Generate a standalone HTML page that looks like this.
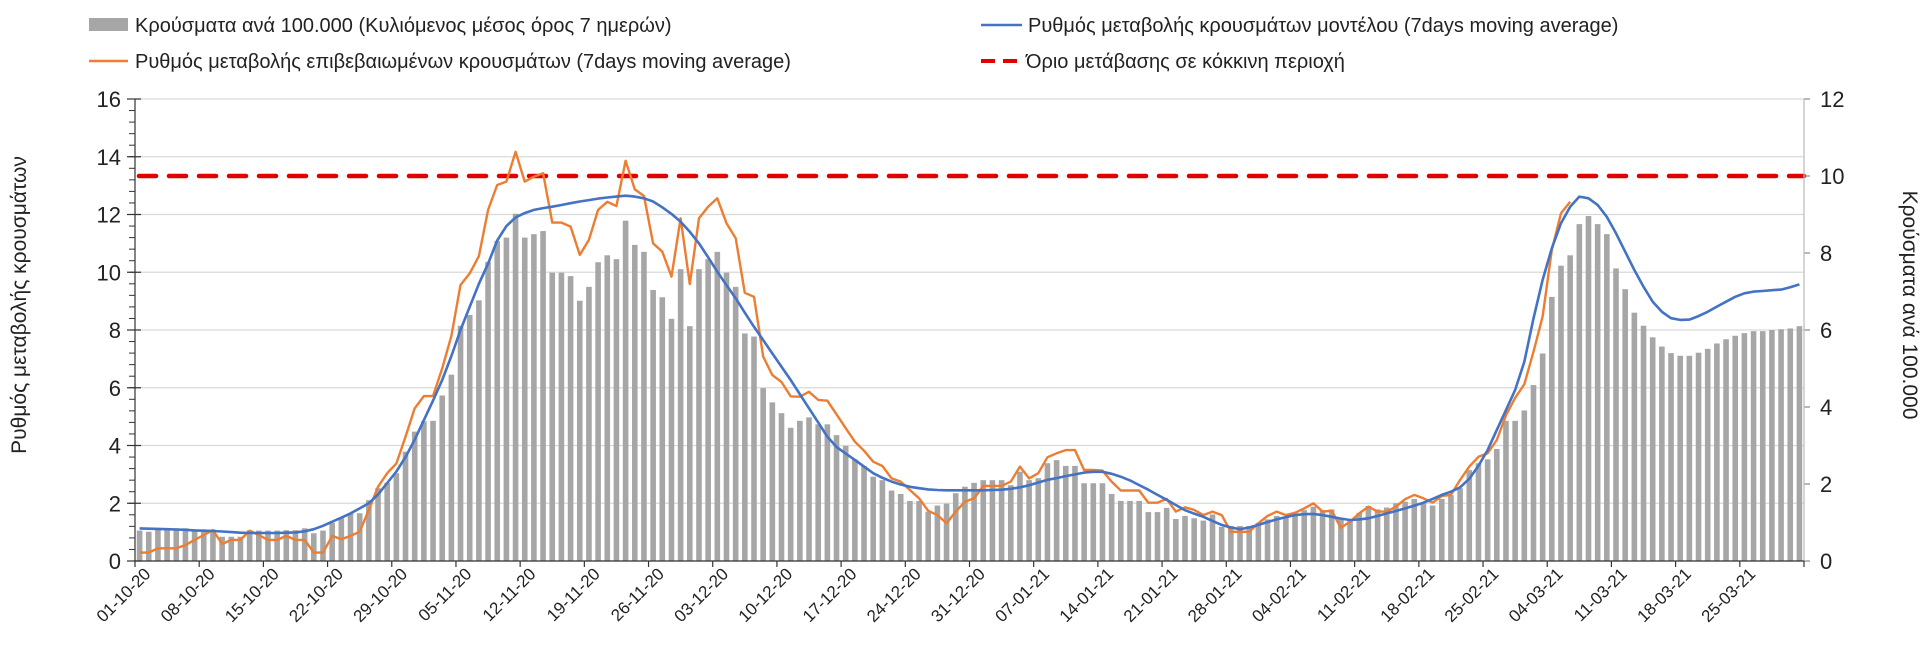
<!DOCTYPE html>
<html><head><meta charset="utf-8">
<style>
html,body{margin:0;padding:0;background:#fff;}
svg{display:block;font-family:"Liberation Sans","DejaVu Sans",sans-serif;}
</style></head>
<body>
<svg id="chart" width="1920" height="670" viewBox="0 0 1920 670" xmlns="http://www.w3.org/2000/svg">
  <g id="legend">
    <g>
      <rect x="89" y="18" width="39" height="13" fill="#a6a6a6"/>
      <text x="135" y="32" font-size="20" fill="#222">Κρούσματα ανά 100.000 (Κυλιόμενος μέσος όρος 7 ημερών)</text>
    </g>
    <g>
      <line x1="981" y1="25" x2="1022" y2="25" stroke="#4472c4" stroke-width="2.5"/>
      <text x="1028" y="32" font-size="20" fill="#222">Ρυθμός μεταβολής κρουσμάτων μοντέλου (7days moving average)</text>
    </g>
    <g>
      <line x1="89" y1="61" x2="128" y2="61" stroke="#ed7d31" stroke-width="2.5"/>
      <text x="135" y="68" font-size="20" fill="#222">Ρυθμός μεταβολής επιβεβαιωμένων κρουσμάτων (7days moving average)</text>
    </g>
    <g>
      <line x1="981" y1="61" x2="1022" y2="61" stroke="#e00000" stroke-width="4" stroke-dasharray="14,8"/>
      <text x="1026" y="68" font-size="20" fill="#222">Όριο μετάβασης σε κόκκινη περιοχή</text>
    </g>
  </g>
  <text transform="translate(26,305) rotate(-90)" text-anchor="middle" font-size="21" fill="#222">Ρυθμός μεταβολής κρουσμάτων</text>
  <text transform="translate(1903,305) rotate(90)" text-anchor="middle" font-size="21" fill="#222">Κρούσματα ανά 100.000</text>
  <g id="grid"></g>
  <g id="bars"></g>
  <g id="lines"></g>
  <g id="axes"></g>
</svg>
<script>
const dateLabels = ["01-10-20","08-10-20","15-10-20","22-10-20","29-10-20","05-11-20","12-11-20","19-11-20","26-11-20","03-12-20","10-12-20","17-12-20","24-12-20","31-12-20","07-01-21","14-01-21","21-01-21","28-01-21","04-02-21","11-02-21","18-02-21","25-02-21","04-03-21","11-03-21","18-03-21","25-03-21"];
const leftTicks = [0,2,4,6,8,10,12,14,16];
const rightTicks = [0,2,4,6,8,10,12];
const redThreshold = 10;
const casesPer100k = [
0.79,0.76,0.85,0.85,0.85,0.85,0.82,0.82,0.82,0.63,
0.63,0.63,0.80,0.79,0.79,0.79,0.80,0.80,0.85,0.72,
0.79,0.99,1.11,1.24,1.24,1.58,1.89,2.03,2.28,2.84,
3.36,3.63,3.64,4.30,4.84,6.11,6.39,6.77,7.77,8.31,
8.40,9.02,8.40,8.49,8.57,7.49,7.49,7.40,6.76,7.12,
7.76,7.94,7.84,8.84,8.21,8.03,7.04,6.85,6.29,7.58,
6.10,7.58,7.84,8.03,7.49,7.12,5.91,5.83,4.49,4.12,
3.84,3.46,3.64,3.73,3.55,3.55,3.27,2.99,2.64,2.47,
2.19,2.10,1.83,1.74,1.56,1.56,1.28,1.44,1.49,1.76,
1.93,2.03,2.10,2.10,2.10,1.97,2.32,2.10,2.15,2.54,
2.62,2.47,2.47,2.02,2.02,2.02,1.74,1.56,1.56,1.56,
1.27,1.27,1.38,1.09,1.17,1.11,1.05,1.21,0.89,0.91,
0.91,0.91,0.99,1.08,1.17,1.13,1.24,1.32,1.41,1.32,
1.34,1.11,1.06,1.25,1.43,1.34,1.39,1.50,1.54,1.61,
1.52,1.44,1.61,1.71,1.89,2.36,2.54,2.64,2.91,3.64,
3.64,3.91,4.57,5.39,6.86,7.67,7.94,8.75,8.96,8.75,
8.49,7.60,7.06,6.45,6.11,5.81,5.57,5.40,5.33,5.33,
5.41,5.51,5.65,5.76,5.85,5.92,5.97,5.97,6.00,6.02,6.04,6.10];
const modelRate = [
1.13,1.12,1.11,1.10,1.09,1.08,1.06,1.05,1.04,1.02,
1.00,0.98,0.97,0.97,0.97,0.97,0.98,0.99,1.03,1.10,
1.22,1.36,1.50,1.65,1.82,2.00,2.30,2.70,3.10,3.60,
4.20,4.88,5.55,6.27,7.10,8.00,8.80,9.60,10.30,11.10,
11.60,11.90,12.05,12.16,12.22,12.27,12.33,12.39,12.45,12.50,
12.55,12.59,12.62,12.65,12.62,12.56,12.45,12.25,12.02,11.75,
11.40,11.00,10.52,10.02,9.55,9.10,8.60,8.11,7.65,7.19,
6.73,6.27,5.78,5.29,4.80,4.30,3.95,3.72,3.50,3.27,
3.04,2.88,2.75,2.65,2.57,2.52,2.48,2.46,2.45,2.45,
2.45,2.45,2.45,2.46,2.47,2.50,2.55,2.62,2.72,2.81,
2.87,2.94,3.00,3.06,3.09,3.09,3.02,2.92,2.79,2.63,
2.47,2.29,2.12,1.94,1.76,1.64,1.53,1.39,1.25,1.16,
1.10,1.16,1.25,1.35,1.44,1.52,1.59,1.62,1.63,1.59,
1.53,1.47,1.42,1.44,1.48,1.56,1.65,1.73,1.82,1.92,
2.02,2.15,2.29,2.40,2.55,2.85,3.30,3.84,4.54,5.23,
5.92,6.90,8.40,9.73,10.83,11.70,12.27,12.62,12.56,12.33,
11.92,11.35,10.71,10.08,9.50,8.98,8.63,8.41,8.35,8.36,
8.48,8.63,8.81,8.98,9.15,9.27,9.33,9.35,9.38,9.40,9.48,9.58];
const confirmedRate = [
0.29,0.29,0.44,0.44,0.44,0.55,0.73,0.90,1.07,0.59,
0.73,0.73,1.05,0.90,0.73,0.73,0.87,0.73,0.73,0.29,
0.29,0.87,0.75,0.87,1.01,1.77,2.57,3.04,3.38,4.30,
5.29,5.71,5.71,6.67,7.80,9.56,9.96,10.56,12.16,13.02,
13.14,14.17,13.14,13.31,13.43,11.72,11.72,11.58,10.60,11.12,
12.16,12.44,12.29,13.86,12.87,12.64,11.00,10.71,9.85,11.87,
9.59,11.87,12.27,12.56,11.70,11.18,9.29,9.15,7.08,6.44,
6.20,5.70,5.69,5.86,5.58,5.55,5.08,4.60,4.13,3.82,
3.44,3.29,2.86,2.75,2.46,2.17,1.74,1.59,1.31,1.71,
2.05,2.17,2.60,2.60,2.60,2.75,3.27,2.86,3.04,3.59,
3.73,3.84,3.84,3.15,3.15,3.13,2.75,2.44,2.44,2.44,
2.02,2.02,2.15,1.71,1.86,1.77,1.59,1.71,1.59,1.01,
1.01,1.01,1.31,1.56,1.71,1.59,1.67,1.82,2.00,1.71,
1.74,1.15,1.36,1.65,1.88,1.71,1.71,1.88,2.14,2.29,
2.17,2.02,2.25,2.29,2.81,3.27,3.61,3.73,4.19,5.05,
5.65,6.12,7.25,8.46,10.77,12.04,12.44];

const NS = "http://www.w3.org/2000/svg";
const L = 135, R = 1804, T = 99, B = 561;
const N = casesPer100k.length;
const band = (R - L) / N;
const xC = i => L + band * (i + 0.5);
const yL = v => B - (v / 16) * (B - T);
const yR = v => B - (v / 12) * (B - T);
function mk(tag, attrs, parent) {
  const e = document.createElementNS(NS, tag);
  for (const k in attrs) e.setAttribute(k, attrs[k]);
  parent.appendChild(e);
  return e;
}
const grid = document.getElementById('grid');
const bars = document.getElementById('bars');
const lines = document.getElementById('lines');
const axes = document.getElementById('axes');

leftTicks.forEach(v => {
  const g = mk('line', {x1: L, x2: R, y1: yL(v), y2: yL(v), stroke: '#d9d9d9', 'stroke-width': 1.3}, grid);
  
  
  const t = mk('text', {x: L - 14, y: yL(v) + 8, 'text-anchor': 'end', 'font-size': 22, fill: '#222'}, axes);
  t.textContent = v;
  
  
  mk('line', {x1: L - 8, x2: L + 6, y1: yL(v), y2: yL(v), stroke: '#333', 'stroke-width': 1.2}, axes);
});
for (let v = 0; v <= 16.001; v += 0.4) {
  mk('line', {x1: L - 6, x2: L, y1: yL(v), y2: yL(v), stroke: '#333', 'stroke-width': 1}, axes);
}
rightTicks.forEach(v => {
  const t = mk('text', {x: R + 16, y: yR(v) + 8, 'text-anchor': 'start', 'font-size': 22, fill: '#222'}, axes);
  t.textContent = v;
  
  
  mk('line', {x1: R, x2: R + 6, y1: yR(v), y2: yR(v), stroke: '#888', 'stroke-width': 1.2}, axes);
});

casesPer100k.forEach((v, i) => {
  const r = mk('rect', {x: xC(i) - 2.8, y: yR(v), width: 5.6, height: B - yR(v), fill: '#a6a6a6'}, bars);
  
  
});

const red = mk('line', {x1: L + 4, x2: R, y1: yR(redThreshold), y2: yR(redThreshold), stroke: '#e00000', 'stroke-width': 4.5, 'stroke-dasharray': '17,13', 'stroke-linecap': 'round'}, lines);



const ptsC = confirmedRate.map((v, i) => xC(i).toFixed(1) + ',' + yL(v).toFixed(1)).join(' ');
const oc = mk('polyline', {points: ptsC, fill: 'none', stroke: '#ed7d31', 'stroke-width': 2.4, 'stroke-linejoin': 'round'}, lines);


const ptsM = modelRate.map((v, i) => xC(i).toFixed(1) + ',' + yL(v).toFixed(1)).join(' ');
const bl = mk('polyline', {points: ptsM, fill: 'none', stroke: '#4472c4', 'stroke-width': 2.6, 'stroke-linejoin': 'round'}, lines);



mk('line', {x1: L, x2: L, y1: T, y2: B, stroke: '#333', 'stroke-width': 1.2}, axes);
mk('line', {x1: R, x2: R, y1: T, y2: B, stroke: '#bbb', 'stroke-width': 1.2}, axes);
mk('line', {x1: L, x2: R, y1: B, y2: B, stroke: '#333', 'stroke-width': 1.2}, axes);
for (let k = 0; k * 7 <= N; k++) {
  const x = L + band * 7 * k;
  mk('line', {x1: x, x2: x, y1: B, y2: B + 6, stroke: '#333', 'stroke-width': 1.2}, axes);
}
dateLabels.forEach((d, k) => {
  const x = xC(k * 7) + 12, y = B + 14;
  const t = mk('text', {x: x, y: y, 'text-anchor': 'end', 'font-size': 17, fill: '#222', transform: 'rotate(-45 ' + x + ' ' + y + ')'}, axes);
  t.textContent = d;
  
  
});
</script>
</body></html>
